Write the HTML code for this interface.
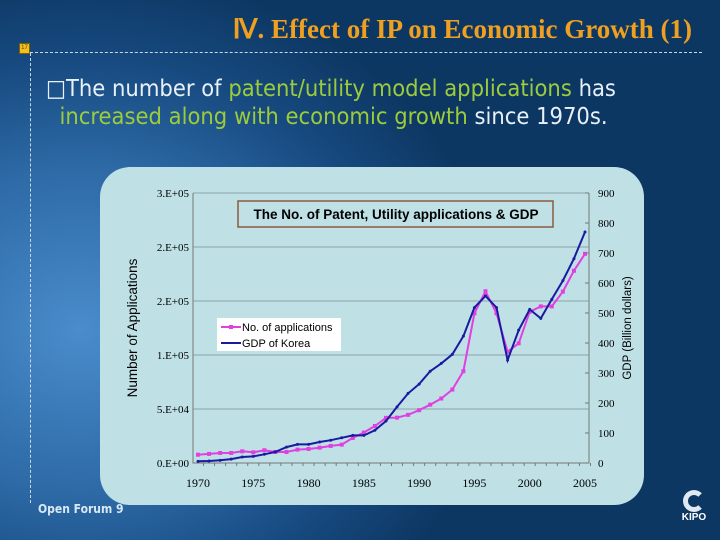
<!DOCTYPE html>
<html><head><meta charset="utf-8"><style>
html,body{margin:0;padding:0;width:720px;height:540px;overflow:hidden}
body{background:radial-gradient(ellipse 420px 360px at 80px 330px,#4a8ccc 0%,#2d6aa6 45%,#174a80 75%,#0d3763 100%);position:relative;font-family:"Liberation Sans",sans-serif}
#title{position:absolute;right:28px;top:14px;font-family:"Liberation Serif",serif;font-weight:bold;font-size:27px;color:#f0a020;letter-spacing:0}
#sub{position:absolute;left:46px;top:74px;font-family:"DejaVu Sans Condensed","DejaVu Sans",sans-serif;font-size:23.5px;line-height:28px;color:#e8f0f8;white-space:nowrap}
.g{color:#9ccc3c}
</style></head><body>
<div id="title">Ⅳ. Effect of IP on Economic Growth (1)</div>
<div style="position:absolute;left:19px;top:43px;width:9px;height:9px;background:#f0c020;border:1px solid #806000;font-size:6px;line-height:9px;text-align:center;color:#604000">17</div>
<div style="position:absolute;left:30px;top:52px;width:672px;border-top:1px dashed #c8d8e8"></div>
<div style="position:absolute;left:30px;top:53px;height:450px;border-left:1px dashed #c8d8e8"></div>
<div id="sub">□The number of <span class="g">patent/utility model applications</span> has<br>&nbsp;&nbsp;<span class="g">increased along with economic growth</span> since 1970s.</div>
<div style="position:absolute;left:38px;top:502px;font-size:12px;font-weight:bold;color:#d8e8f4;font-family:'DejaVu Sans Condensed','DejaVu Sans',sans-serif">Open Forum 9</div>
<div style="position:absolute;left:674px;top:490px;width:40px;text-align:center;color:#fff">
<div style="width:22px;height:22px;border-radius:50%;border:5px solid #e0e8f0;border-right-color:transparent;box-sizing:border-box;margin:0 auto"></div>
<div style="font-size:10px;font-weight:bold">KIPO</div></div>
<svg id="chart" width="720" height="540" style="position:absolute;left:0;top:0">
<rect x="100" y="167" width="544" height="338" rx="30" fill="#bfe1e6"/>
<g id="grid"></g><g id="axes"></g><g id="series"></g>
<rect x="238" y="201" width="315" height="26" fill="#bfe1e6" stroke="#8b5a3a" stroke-width="1.5"/>
<text x="396" y="219" text-anchor="middle" font-size="13.5" font-weight="bold" fill="#000">The No. of Patent, Utility applications &amp; GDP</text>
<rect x="217" y="318" width="124" height="33" fill="#fff"/>
<g><line x1="221" y1="327" x2="241" y2="327" stroke="#e040e0" stroke-width="2"/><rect x="229" y="325" width="4" height="4" fill="#e040e0"/><text x="242" y="331" font-size="11">No. of applications</text></g>
<g><line x1="221" y1="343" x2="241" y2="343" stroke="#1a1aa0" stroke-width="2"/><text x="242" y="347" font-size="11">GDP of Korea</text></g>
<text transform="translate(137,328) rotate(-90)" text-anchor="middle" font-size="13.5">Number of Applications</text>
<text transform="translate(631,328) rotate(-90)" text-anchor="middle" font-size="11.5">GDP (Billion dollars)</text>
</svg>
<script>
const years=[];for(let y=1970;y<=2005;y++)years.push(y);
const applications=[7.7,8.4,9.3,9.3,10.8,9.9,11.8,10.2,10.2,12.4,13,14.2,15.8,17,23.2,28.2,34.3,41.8,42,44.6,48.9,54,59.7,68,85,138.6,159,138.6,103,110.8,140,145,145,158.7,178,193.7];
const gdp=[5.6,6.7,8.9,13,20,22,29,37,53,62,62,70,76,84,92,92,109,140,187,232,263,306,332,362,423,518,557,518,343,443,512,482,546,608,681,770];
const leftTicks=[0,50,100,150,200,250];
const leftLabels=["0.E+00","5.E+04","1.E+05","2.E+05","2.E+05","3.E+05"];
const rightTicks=[0,100,200,300,400,500,600,700,800,900];
const xLabels=[1970,1975,1980,1985,1990,1995,2000,2005];
const X0=193,X1=589,Y0=463,Y1=193;
const xs=y=>198+(y-1970)*(585-198)/35;
const yl=v=>Y0-v/250*(Y0-Y1);
const yr=v=>Y0-v/900*(Y0-Y1);
const NS='http://www.w3.org/2000/svg';
function mk(p,t,a){const e=document.createElementNS(NS,t);for(const k in a)e.setAttribute(k,a[k]);p.appendChild(e);return e;}
const grid=document.getElementById('grid'),axes=document.getElementById('axes'),ser=document.getElementById('series');
leftTicks.forEach((v,i)=>{
 if(v>0){const l=mk(grid,'line',{x1:X0,x2:X1,y1:yl(v),y2:yl(v),stroke:'#8aa4aa','stroke-width':1});
 
 }
 const t=mk(axes,'text',{x:X0-4,y:yl(v)+4,'text-anchor':'end','font-size':11,'font-family':'Liberation Serif, serif'});t.textContent=leftLabels[i];
 
 
});
rightTicks.forEach(v=>{
 mk(axes,'line',{x1:X1-4,x2:X1,y1:yr(v),y2:yr(v),stroke:'#777'});
 const t=mk(axes,'text',{x:598,y:yr(v)+4,'font-size':11,'font-family':'Liberation Serif, serif'});t.textContent=v;
 
 
});
xLabels.forEach(y=>{
 const t=mk(axes,'text',{x:xs(y),y:487,'text-anchor':'middle','font-size':12,'font-family':'Liberation Serif, serif'});t.textContent=y;
 
 
});
years.forEach(y=>{mk(axes,'line',{x1:xs(y)+5.5,x2:xs(y)+5.5,y1:Y0,y2:Y0+3,stroke:'#777'});});
mk(axes,'path',{d:`M${X0} ${Y1}V${Y0}H${X1}V${Y1}`,fill:'none',stroke:'#777'});
function series(vals,sc,col,name,marker){
 const p=mk(ser,'path',{d:vals.map((v,i)=>(i?'L':'M')+xs(years[i]).toFixed(1)+' '+sc(v).toFixed(1)).join(''),fill:'none',stroke:col,'stroke-width':2});
 
 
 vals.forEach((v,i)=>{
  const m=marker?mk(ser,'rect',{x:xs(years[i])-2,y:sc(v)-2,width:4,height:4,fill:col}):mk(ser,'circle',{cx:xs(years[i]),cy:sc(v),r:1.5,fill:col});
  
  
 });
}
series(applications,yl,'#e040e0','applications-line',true);
series(gdp,yr,'#1a1aa0','gdp-line',false);
</script>
</body></html>
